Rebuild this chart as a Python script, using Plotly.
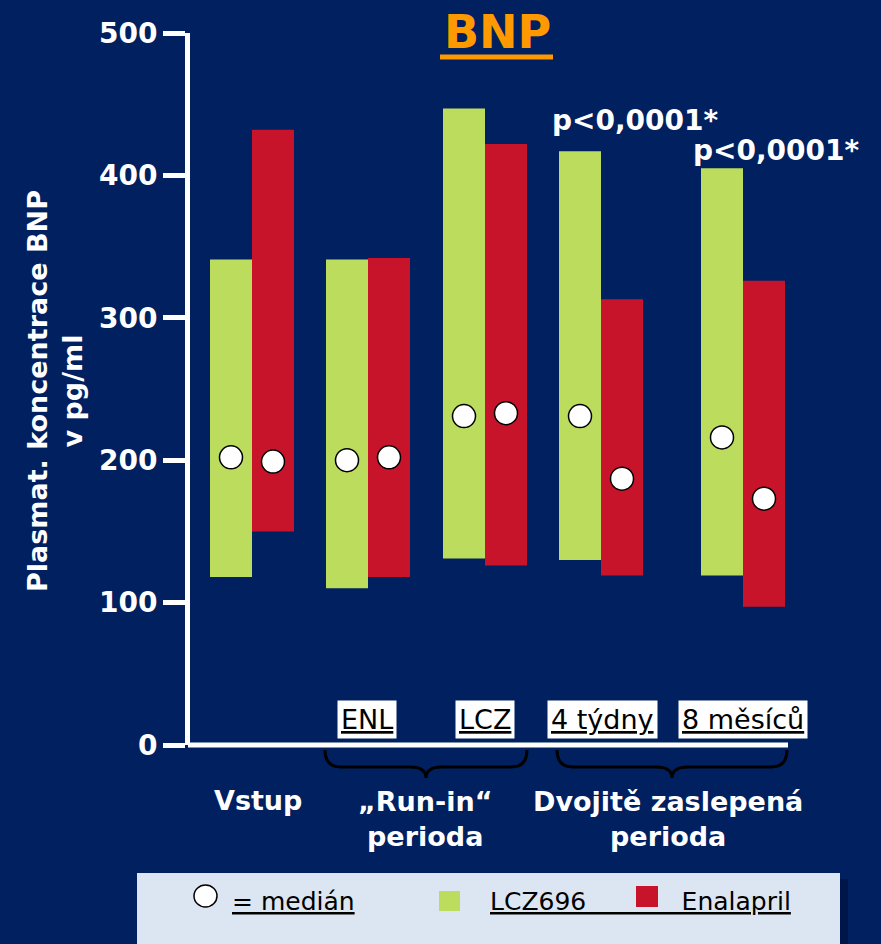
import plotly.graph_objects as go

# ---------------- data ----------------
groups = ["Vstup", "ENL", "LCZ", "4 týdny", "8 měsíců"]
group_pos = [62, 178, 295, 411, 553]          # horizontal slot centres (axis units)
lcz_low = [118, 110, 131, 130, 119]
lcz_high = [341, 341, 447, 417, 405]
enl_low = [150, 118, 126, 119, 97]
enl_high = [432, 342, 422, 313, 326]
lcz_median = [202, 200, 231, 231, 216]
enl_median = [199, 202, 233, 187, 173]
y_ticks = [0, 100, 200, 300, 400, 500]
p_labels = ["p<0,0001*", "p<0,0001*"]

BG = "#002060"
GREEN = "#BBDC5C"
RED = "#C8142A"
ORANGE = "#FF9900"
BAR_W = 42
FONT = "DejaVu Sans"

W, H = 881, 944
# plot area in screen pixels
SX0, SX1, SY0, SY1 = 190, 870, 33, 745
L, R = SX0, W - SX1
T, B = SY0, H - SY1
PW, PH = SX1 - SX0, SY1 - SY0


def px(x):
    return (x - SX0) / PW


def py(y):
    return (SY1 - y) / PH


fig = go.Figure()
fig.add_trace(go.Bar(
    x=group_pos, y=[h - l for h, l in zip(lcz_high, lcz_low)], base=lcz_low,
    width=BAR_W, offset=-BAR_W, marker=dict(color=GREEN, line=dict(width=0)),
    name="LCZ696", showlegend=False,
    customdata=lcz_high,
    hovertemplate="LCZ696: %{base}–%{customdata}<extra></extra>"))
fig.add_trace(go.Bar(
    x=group_pos, y=[h - l for h, l in zip(enl_high, enl_low)], base=enl_low,
    width=BAR_W, offset=0, marker=dict(color=RED, line=dict(width=0)),
    name="Enalapril", showlegend=False,
    customdata=enl_high,
    hovertemplate="Enalapril: %{base}–%{customdata}<extra></extra>"))
fig.add_trace(go.Scatter(
    x=[p - BAR_W / 2 for p in group_pos], y=lcz_median, mode="markers",
    marker=dict(size=23, color="white", line=dict(color="black", width=1.5)),
    showlegend=False, name="medián LCZ696"))
fig.add_trace(go.Scatter(
    x=[p + BAR_W / 2 for p in group_pos], y=enl_median, mode="markers",
    marker=dict(size=23, color="white", line=dict(color="black", width=1.5)),
    showlegend=False, name="medián Enalapril"))

shapes = []
annotations = []

# x axis line (partial)
shapes.append(dict(type="line", xref="paper", yref="paper",
                   x0=px(188), x1=px(788), y0=py(745), y1=py(745),
                   line=dict(color="white", width=5)))

# BNP title
annotations.append(dict(text="BNP", xref="paper", yref="paper",
                        x=px(497), y=py(32), xanchor="center", yanchor="middle",
                        showarrow=False,
                        font=dict(family=FONT, size=46, color=ORANGE, weight="bold")))
shapes.append(dict(type="line", xref="paper", yref="paper",
                   x0=px(440), x1=px(553), y0=py(57), y1=py(57),
                   line=dict(color=ORANGE, width=5)))

# p-values
for txt, (xx, yy) in zip(p_labels, [(635, 120), (776, 150)]):
    annotations.append(dict(text=txt, xref="paper", yref="paper", x=px(xx), y=py(yy),
                            xanchor="center", yanchor="middle", showarrow=False,
                            font=dict(family=FONT, size=28, color="white", weight="bold")))

# sub-labels in white boxes
for g, xx in zip(groups[1:], [367, 485, 602, 743]):
    annotations.append(dict(text=f"<u>{g}</u>", xref="paper", yref="paper",
                            x=px(xx), y=py(719), xanchor="center", yanchor="middle",
                            showarrow=False, bgcolor="white", borderpad=3,
                            font=dict(family=FONT, size=27, color="black")))

# category labels
cat_labels = [("Vstup", 258, 800), ("„Run-in“<br>perioda", 425, 819),
              ("Dvojitě zaslepená<br>perioda", 668, 819)]
for txt, xx, yy in cat_labels:
    annotations.append(dict(text=txt, xref="paper", yref="paper", x=px(xx), y=py(yy),
                            xanchor="center", yanchor="middle", showarrow=False,
                            font=dict(family=FONT, size=27, color="white", weight="bold")))

# braces
def brace(x0, x1, ytop, ymid, ybot):
    c = (x0 + x1) / 2
    pts = [
        f"M {px(x0)},{py(ytop)}",
        f"Q {px(x0)},{py(ymid)} {px(x0 + 16)},{py(ymid)}",
        f"L {px(c - 16)},{py(ymid)}",
        f"Q {px(c)},{py(ymid)} {px(c)},{py(ybot)}",
        f"Q {px(c)},{py(ymid)} {px(c + 16)},{py(ymid)}",
        f"L {px(x1 - 16)},{py(ymid)}",
        f"Q {px(x1)},{py(ymid)} {px(x1)},{py(ytop)}",
    ]
    return " ".join(pts)

for x0, x1 in [(325, 527), (557, 787)]:
    shapes.append(dict(type="path", xref="paper", yref="paper",
                       path=brace(x0, x1, 750, 767, 778),
                       line=dict(color="black", width=3)))

# y axis title
annotations.append(dict(text="Plasmat. koncentrace BNP<br>v pg/ml", xref="paper", yref="paper",
                        x=px(55), y=py(391), xanchor="center", yanchor="middle",
                        textangle=-90, showarrow=False,
                        font=dict(family=FONT, size=27, color="white", weight="bold")))

# legend box with shadow
shapes.append(dict(type="rect", xref="paper", yref="paper", layer="below",
                   x0=px(143), x1=px(848), y0=py(879), y1=py(960),
                   fillcolor="#001548", line=dict(width=0)))
shapes.append(dict(type="rect", xref="paper", yref="paper", layer="below",
                   x0=px(137), x1=px(840), y0=py(873), y1=py(960),
                   fillcolor="#DCE6F2", line=dict(width=0)))
shapes.append(dict(type="circle", xref="paper", yref="paper",
                   x0=px(194), x1=px(217), y0=py(885), y1=py(907),
                   fillcolor="white", line=dict(color="black", width=1.5)))
shapes.append(dict(type="rect", xref="paper", yref="paper",
                   x0=px(439), x1=px(460), y0=py(891), y1=py(911),
                   fillcolor=GREEN, line=dict(width=0)))
shapes.append(dict(type="rect", xref="paper", yref="paper",
                   x0=px(636), x1=px(658), y0=py(886), y1=py(907),
                   fillcolor=RED, line=dict(width=0)))
annotations.append(dict(text="<u>= medián</u>", xref="paper", yref="paper",
                        x=px(230), y=py(901), xanchor="left", yanchor="middle",
                        showarrow=False, font=dict(family=FONT, size=25, color="black")))
annotations.append(dict(text="<u>LCZ696" + "&nbsp;" * 12 + "Enalapril</u>",
                        xref="paper", yref="paper",
                        x=px(488), y=py(901), xanchor="left", yanchor="middle",
                        showarrow=False, font=dict(family=FONT, size=25, color="black")))

fig.update_layout(
    width=W, height=H,
    margin=dict(l=L, r=R, t=T, b=B, pad=0),
    paper_bgcolor=BG, plot_bgcolor=BG,
    barmode="overlay",
    xaxis=dict(range=[0, PW], visible=False, fixedrange=True),
    yaxis=dict(range=[0, 500], tickvals=y_ticks, showgrid=False, zeroline=False,
               showline=True, linecolor="white", linewidth=5,
               ticks="outside", ticklen=22, tickwidth=5, tickcolor="white",
               tickfont=dict(family=FONT, size=28, color="white", weight="bold"),
               ticklabelstandoff=0),
    shapes=shapes, annotations=annotations,
    hovermode="closest",
)

fig.write_html(
    "out.html",
    config={"displayModeBar": False},
    post_script=("document.body.style.margin='0';"
                 "document.body.style.background='%s';"
                 "document.body.style.overflow='hidden';" % BG),
)
